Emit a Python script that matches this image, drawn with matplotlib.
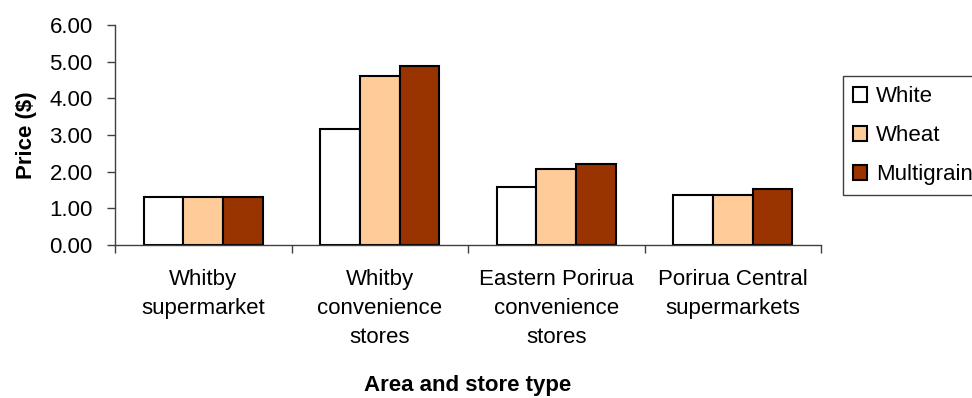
import numpy as np
import matplotlib
matplotlib.use("Agg")
import matplotlib.pyplot as plt

plt.rcParams["font.family"] = ["Liberation Sans", "DejaVu Sans"]

categories = ["Whitby\nsupermarket", "Whitby\nconvenience\nstores",
              "Eastern Porirua\nconvenience\nstores", "Porirua Central\nsupermarkets"]
series = ["White", "Wheat", "Multigrain"]
white = [1.31, 3.17, 1.59, 1.37]
wheat = [1.31, 4.61, 2.06, 1.37]
multigrain = [1.31, 4.87, 2.22, 1.53]
colors = ["#FFFFFF", "#FFCC99", "#993300"]

fig = plt.figure(figsize=(9.72, 3.98), dpi=100)
ax = fig.add_axes([115/972, 1-245/398, (821-115)/972, 220/398])

x = np.arange(len(categories))
w = 0.225
for i, (name, vals) in enumerate(zip(series, [white, wheat, multigrain])):
    ax.bar(x + (i-1)*w, vals, w, color=colors[i], edgecolor="black",
           linewidth=1.5, label=name)

ax.set_xlim(-0.5, 3.5)
ax.set_ylim(0, 6)
ax.set_yticks(np.arange(0, 7, 1))
ax.set_yticklabels(["%.2f" % v for v in np.arange(0, 7, 1)], fontsize=16)
ax.set_xticks(x)
ax.set_xticklabels(categories, fontsize=16, linespacing=1.5, va="top")
ax.set_xticks(np.arange(-0.5, 4, 1), minor=True)
ax.tick_params(axis="x", which="major", length=0, pad=17)
ax.tick_params(axis="x", which="minor", length=6, width=1, color="#404040", direction="out")
ax.tick_params(axis="y", length=6, width=1, color="#404040", direction="out", pad=10)

for s in ["top", "right"]:
    ax.spines[s].set_visible(False)
for s in ["left", "bottom"]:
    ax.spines[s].set_color("#404040")
    ax.spines[s].set_linewidth(1)

ax.set_ylabel("Price ($)", fontsize=16, fontweight="bold", labelpad=9)
ax.set_xlabel("Area and store type", fontsize=16, fontweight="bold", labelpad=20)

fig.legend(loc="upper left", bbox_to_anchor=(843/972, 1-76/398), fontsize=16,
           frameon=True, fancybox=False, edgecolor="#404040", framealpha=1,
           handlelength=0.65, handleheight=0.65, handletextpad=0.4,
           labelspacing=0.82, borderpad=0.45, borderaxespad=0)

fig.savefig("out.png", dpi=100)
